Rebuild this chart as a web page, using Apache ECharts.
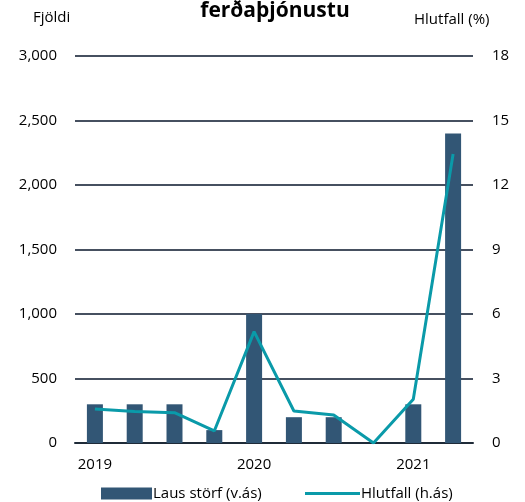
<!DOCTYPE html>
<html>
<head>
<meta charset="utf-8">
<script src="https://cdn.jsdelivr.net/npm/echarts@6/dist/echarts.min.js"></script>
<style>
  html, body { margin: 0; padding: 0; background: #fff; }
  #chart { width: 525px; height: 502px; }
</style>
</head>
<body>
<div id="chart"></div>
<script>
// ársfjórðungar 2019K1 - 2021K2
const quarters = ['2019K1', '2019K2', '2019K3', '2019K4', '2020K1', '2020K2', '2020K3', '2020K4', '2021K1', '2021K2']
const yearLabels = ['2019', '', '', '', '2020', '', '', '', '2021', '']
const lausStorf = [300, 300, 300, 100, 1000, 200, 200, 0, 300, 2400]
const hlutfall = [1.58, 1.47, 1.41, 0.56, 5.18, 1.49, 1.3, 0, 2.03, 13.44]

const font = '"Open Sans", Lato, sans-serif'
const gridColor = '#465060'
const barColor = '#325675'
const lineColor = '#0a9aa9'

const chart = echarts.init(document.getElementById('chart'))
chart.setOption({
  animation: false,
  textStyle: { fontFamily: font },
  title: {
    text: 'ferðaþjónustu',
    left: 270,
    textAlign: 'center',
    top: -4,
    textStyle: { fontFamily: font, fontSize: 21, fontWeight: 'bold', color: '#000' }
  },
  graphic: [
    { type: 'text', left: 33, top: 10, style: { text: 'Fjöldi', font: '15px ' + font, fill: '#000' } },
    { type: 'text', left: 414, top: 12, style: { text: 'Hlutfall (%)', font: '15px ' + font, fill: '#000' } }
  ],
  legend: [
    {
      data: [{ name: 'Laus störf (v.ás)', icon: 'rect' }],
      left: 96, top: 481,
      itemWidth: 51, itemHeight: 12, itemGap: 4,
      textStyle: { fontFamily: font, fontSize: 15, color: '#000', padding: [0, 0, 0, -4] }
    },
    {
      data: [{ name: 'Hlutfall (h.ás)', icon: 'rect', itemStyle: { color: lineColor } }],
      left: 300, top: 481,
      itemWidth: 55, itemHeight: 3,
      textStyle: { fontFamily: font, fontSize: 15, color: '#000', padding: [0, 0, 0, -4] }
    }
  ],
  grid: { left: 75, right: 52, top: 56, bottom: 59 },
  xAxis: {
    type: 'category',
    data: quarters,
    axisLine: { lineStyle: { color: '#1f2b38', width: 2 } },
    axisTick: { show: false },
    axisLabel: {
      interval: 0,
      margin: 14,
      fontFamily: font, fontSize: 15, color: '#000',
      formatter: (v, i) => yearLabels[i]
    }
  },
  yAxis: [
    {
      type: 'value',
      min: 0, max: 3000, interval: 500,
      axisLine: { show: false },
      axisTick: { show: false },
      splitLine: { lineStyle: { color: gridColor, width: 2 } },
      axisLabel: {
        margin: 18,
        fontFamily: font, fontSize: 15, color: '#000',
        formatter: v => v.toLocaleString('en-US')
      }
    },
    {
      type: 'value',
      min: 0, max: 18, interval: 3,
      axisLine: { show: false },
      axisTick: { show: false },
      splitLine: { show: false },
      axisLabel: { margin: 19, fontFamily: font, fontSize: 15, color: '#000' }
    }
  ],
  series: [
    {
      name: 'Laus störf (v.ás)',
      type: 'bar',
      data: lausStorf,
      barWidth: 16,
      itemStyle: { color: barColor }
    },
    {
      name: 'Hlutfall (h.ás)',
      type: 'line',
      yAxisIndex: 1,
      data: hlutfall,
      symbol: 'none',
      lineStyle: { color: lineColor, width: 3 },
      itemStyle: { color: lineColor }
    }
  ]
})
</script>
</body>
</html>
